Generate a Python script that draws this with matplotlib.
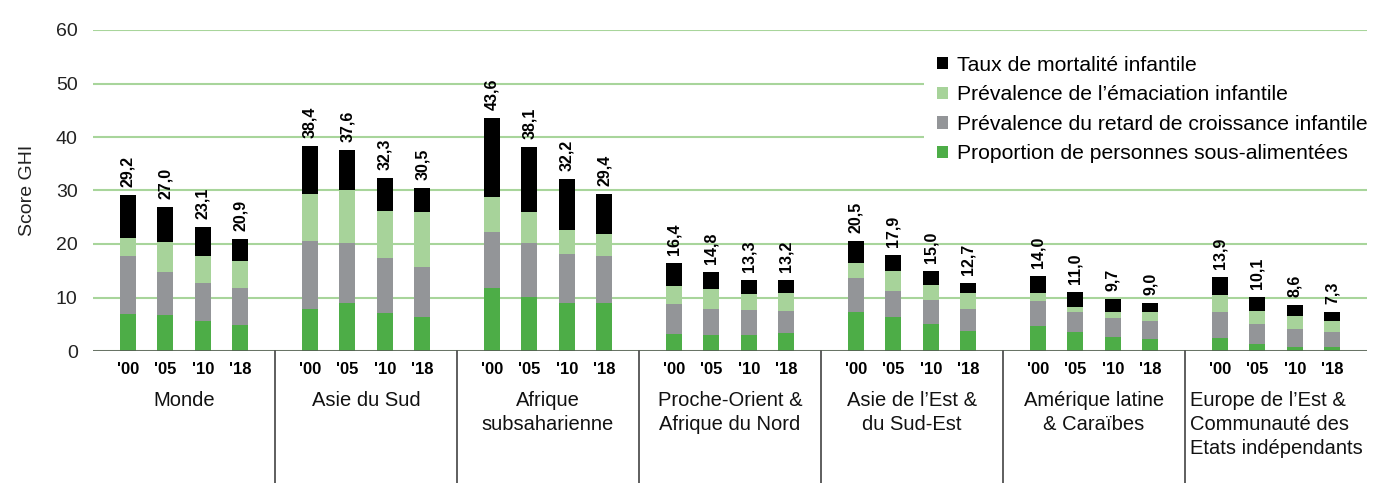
import numpy as np
import matplotlib
matplotlib.use('Agg')
import matplotlib.pyplot as plt
from matplotlib.patches import Patch
from matplotlib.transforms import blended_transform_factory

plt.rcParams['font.family'] = ['Liberation Sans', 'DejaVu Sans']

# Data (GHI components, stacked)
regions = ['Monde', 'Asie du Sud', 'Afrique\nsubsaharienne',
           'Proche-Orient &\nAfrique du Nord', 'Asie de l’Est &\ndu Sud-Est',
           'Amérique latine\n& Caraïbes',
           'Europe de l’Est &\nCommunauté des\nEtats indépendants']
years = ["'00", "'05", "'10", "'18"]

undernourished = [7.0, 6.7, 5.6, 4.9, 7.8, 9.0, 7.1, 6.4, 11.8, 10.1, 9.0, 9.0,
                  3.1, 2.9, 2.9, 3.3, 7.2, 6.4, 5.0, 3.8, 4.6, 3.6, 2.7, 2.3,
                  2.5, 1.4, 0.8, 0.8]
stunting = [10.7, 8.1, 7.1, 6.9, 12.8, 11.2, 10.3, 9.3, 10.4, 10.1, 9.1, 8.8,
            5.6, 5.0, 4.7, 4.1, 6.4, 4.9, 4.6, 4.1, 4.7, 3.6, 3.4, 3.4,
            4.7, 3.6, 3.4, 2.7]
wasting = [3.5, 5.6, 5.1, 5.0, 8.7, 9.9, 8.8, 10.3, 6.6, 5.8, 4.5, 4.1,
           3.4, 3.6, 3.0, 3.5, 2.8, 3.6, 2.8, 3.0, 1.5, 1.1, 1.1, 1.5,
           3.2, 2.4, 2.4, 2.2]
mortality = [8.0, 6.6, 5.3, 4.1, 9.1, 7.5, 6.1, 4.5, 14.8, 12.1, 9.6, 7.5,
             4.3, 3.3, 2.7, 2.3, 4.1, 3.0, 2.6, 1.8, 3.2, 2.7, 2.5, 1.8,
             3.5, 2.7, 2.0, 1.6]
totals = [29.2, 27.0, 23.1, 20.9, 38.4, 37.6, 32.3, 30.5, 43.6, 38.1, 32.2, 29.4,
          16.4, 14.8, 13.3, 13.2, 20.5, 17.9, 15.0, 12.7, 14.0, 11.0, 9.7, 9.0,
          13.9, 10.1, 8.6, 7.3]

labels = ['Taux de mortalité infantile',
          'Prévalence de l’émaciation infantile',
          'Prévalence du retard de croissance infantile',
          'Proportion de personnes sous-alimentées']
c_black = '#000000'
c_light = '#a7d39a'
c_gray = '#939598'
c_green = '#4dad47'

# x positions: one unit per region, four bars inside
n_reg = len(regions)
step = 0.206
x = np.array([g + 0.5 + (j - 1.5) * step for g in range(n_reg) for j in range(4)])
w = 0.087

fig = plt.figure(figsize=(13.83, 4.83), dpi=100)
ax = fig.add_axes([93 / 1383, 132 / 483, 1274 / 1383, 321 / 483])

b1 = np.array(undernourished)
b2 = b1 + np.array(stunting)
b3 = b2 + np.array(wasting)
ax.bar(x, undernourished, w, color=c_green, zorder=3)
ax.bar(x, stunting, w, bottom=b1, color=c_gray, zorder=3)
ax.bar(x, wasting, w, bottom=b2, color=c_light, zorder=3)
ax.bar(x, mortality, w, bottom=b3, color=c_black, zorder=3)

for xi, t in zip(x, totals):
    ax.text(xi, t + 1.5, f'{t:.1f}'.replace('.', ','), rotation=90,
            ha='center', va='bottom', fontsize=11.5, fontweight='bold')

ax.set_xlim(0, n_reg)
ax.set_ylim(0, 60)
ax.set_yticks(range(0, 61, 10))
ax.yaxis.grid(True, color='#a8d59b', lw=1.5)
ax.set_axisbelow(True)
ax.axhline(0, color='#555555', lw=1.8, zorder=4)
for s in ax.spines.values():
    s.set_visible(False)
ax.tick_params(axis='y', length=0, pad=11, labelsize=14, labelcolor='#222222')
ax.set_xticks(x)
ax.set_xticklabels(years * n_reg, fontsize=12, fontweight='bold')
ax.tick_params(axis='x', length=0, pad=8)
ax.set_ylabel('Score GHI', fontsize=14, labelpad=14, color='#222222')

trans = blended_transform_factory(ax.transData, ax.transAxes)
for g, name in enumerate(regions):
    align = 'left' if g == n_reg - 1 else 'center'
    ax.text(g + 0.5, -0.125, name, transform=trans, ha='center', va='top',
            multialignment=align, fontsize=14.5, linespacing=1.32, color='#111111')
for g in range(1, n_reg):
    ax.plot([g, g], [0, -0.42], transform=trans, color='#333333', lw=1.1,
            clip_on=False)

handles = [Patch(facecolor=c, edgecolor='none') for c in [c_black, c_light, c_gray, c_green]]
leg = ax.legend(handles, labels, loc='upper left', bbox_to_anchor=(924 / 1383, 1 - 43 / 483),
                bbox_transform=fig.transFigure, fontsize=15.2, frameon=True,
                facecolor='white', edgecolor='none', framealpha=1, fancybox=False,
                handlelength=0.53, handleheight=0.53, handletextpad=0.42,
                labelspacing=0.5, borderpad=0.6, borderaxespad=0)

fig.savefig('out.png', dpi=100)
